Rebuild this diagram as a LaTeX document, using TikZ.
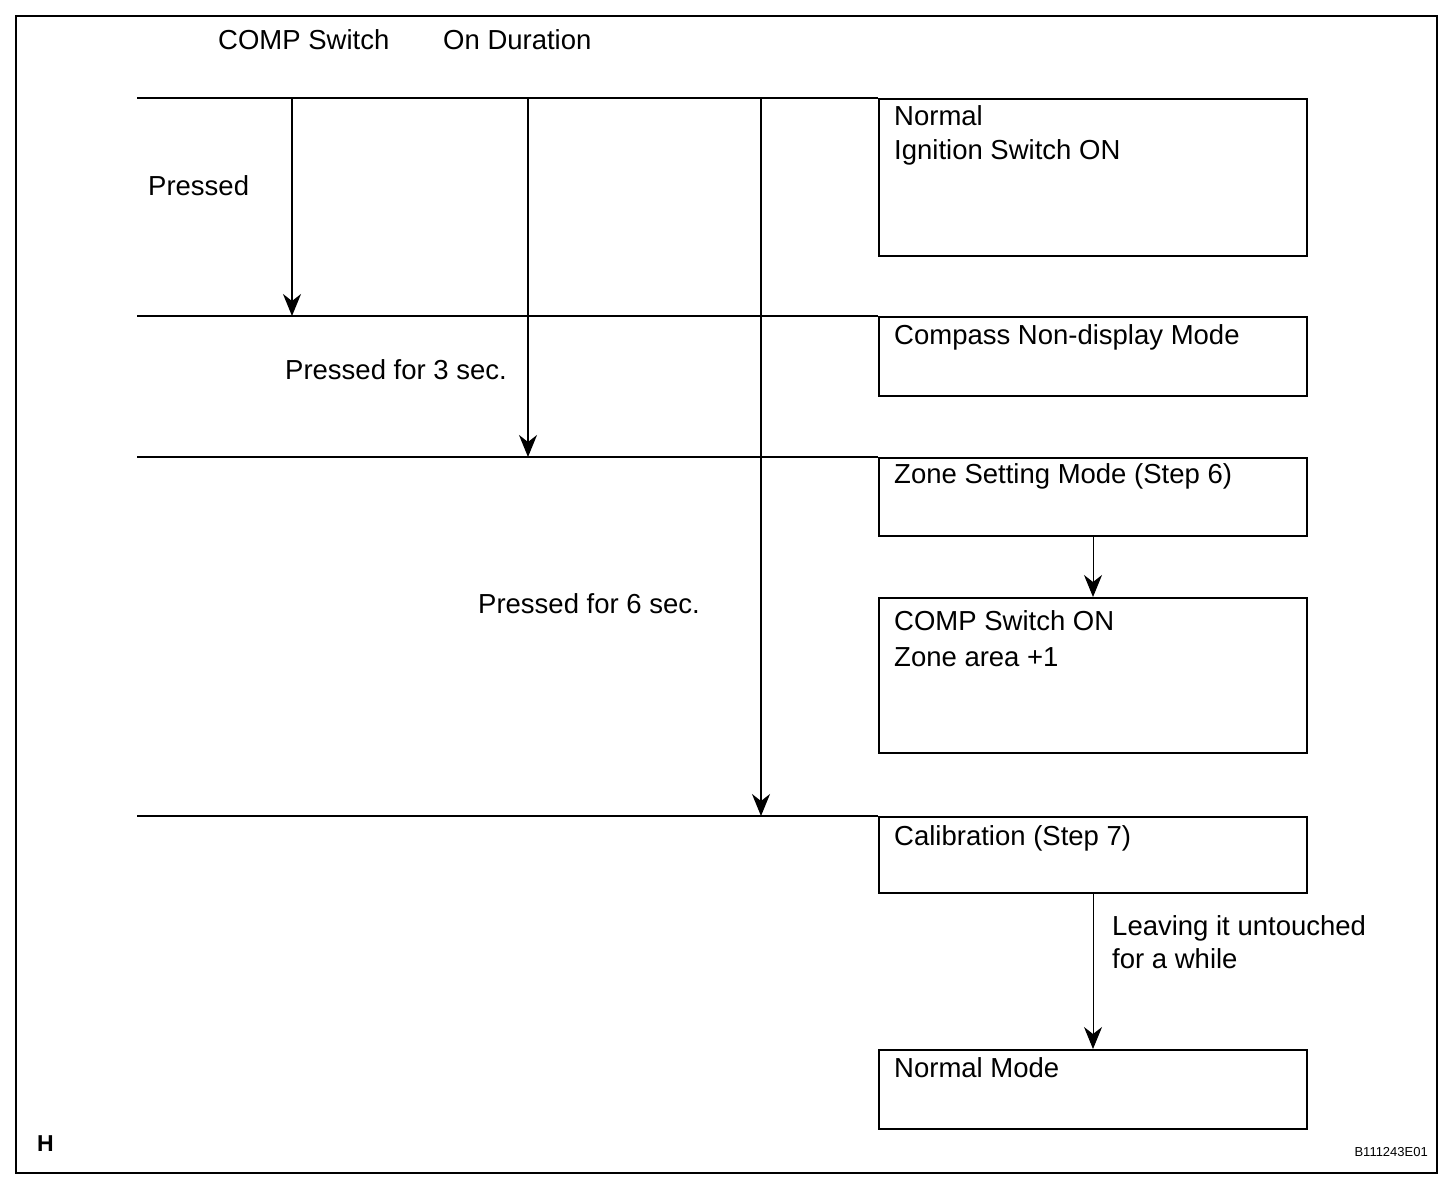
\documentclass[tikz,border=0pt]{standalone}
\usepackage{fontspec}
\setmainfont{Liberation Sans}
\usetikzlibrary{arrows.meta}
\begin{document}
\begin{tikzpicture}[x=1pt,y=-1pt,
  txt/.style={anchor=west,inner sep=0pt,text height=19.7pt,text depth=0pt,font=\fontsize{27.5}{33}\selectfont},
  box/.style={draw,line width=2pt,minimum width=428pt,inner sep=0pt,anchor=north west},
  hl/.style={line width=1.5pt},
  arr/.style={line width=1.5pt,-{Stealth[length=22pt,width=18pt,inset=7pt]}},
  arrthin/.style={line width=1pt,-{Stealth[length=22pt,width=18pt,inset=7pt]}}]
\useasboundingbox (0,0) rectangle (1456,1180);
\draw[line width=2pt] (16,16) rectangle (1437,1173);
% boxes
\node[box,minimum height=157pt] (b1) at (878,98) {};
\node[box,minimum height=79pt] (b2) at (878,316) {};
\node[box,minimum height=78pt] (b3) at (878,457) {};
\node[box,minimum height=155pt] (b4) at (878,597) {};
\node[box,minimum height=76pt] (b5) at (878,816) {};
\node[box,minimum height=79pt] (b6) at (878,1049) {};
% headers
\node[txt] (h1) at (218,40) {COMP Switch};
\node[txt] (h2) at (443,40) {On Duration};
% horizontal lines
\coordinate (l1) at (137,98);
\coordinate (l2) at (137,316);
\coordinate (l3) at (137,457);
\coordinate (l4) at (137,816);
\draw[hl] (l1) -- (b1.north west);
\draw[hl] (l2) -- (b2.north west);
\draw[hl] (l3) -- (b3.north west);
\draw[hl] (l4) -- (b5.north west);
% vertical arrows
\coordinate (v1s) at (292,98); \coordinate (v1e) at (292,316);
\coordinate (v2s) at (528,98); \coordinate (v2e) at (528,457);
\coordinate (v3s) at (761,98); \coordinate (v3e) at (761,816);
\draw[arr] (v1s) -- (v1e);
\draw[arr] (v2s) -- (v2e);
\draw[arr] (v3s) -- (v3e);
% labels
\node[txt] (p1) at (148,186) {Pressed};
\node[txt] (p2) at (285,370) {Pressed for 3 sec.};
\node[txt] (p3) at (478,604) {Pressed for 6 sec.};
% box texts
\node[txt] (t1a) at (894,116) {Normal};
\node[txt] (t1b) at (894,150) {Ignition Switch ON};
\node[txt] (t2) at (894,335) {Compass Non-display Mode};
\node[txt] (t3) at (894,474) {Zone Setting Mode (Step 6)};
\node[txt] (t4a) at (894,621) {COMP Switch ON};
\node[txt] (t4b) at (894,657) {Zone area +1};
\node[txt] (t5) at (894,836) {Calibration (Step 7)};
\node[txt] (t6) at (894,1068) {Normal Mode};
\node[txt] (lv1) at (1112,926) {Leaving it untouched};
\node[txt] (lv2) at (1112,959) {for a while};
% box arrows
\draw[arrthin] (b3.south) -- (b4.north);
\draw[arrthin] (b5.south) -- (b6.north);
% corner marks
\node[anchor=west,inner sep=0pt,font=\fontsize{23}{26}\bfseries\selectfont] (hh) at (37,1144) {H};
\node[anchor=east,inner sep=0pt,font=\fontsize{13}{15}\selectfont] (code) at (1428,1152) {B111243E01};
\end{tikzpicture}
\end{document}
